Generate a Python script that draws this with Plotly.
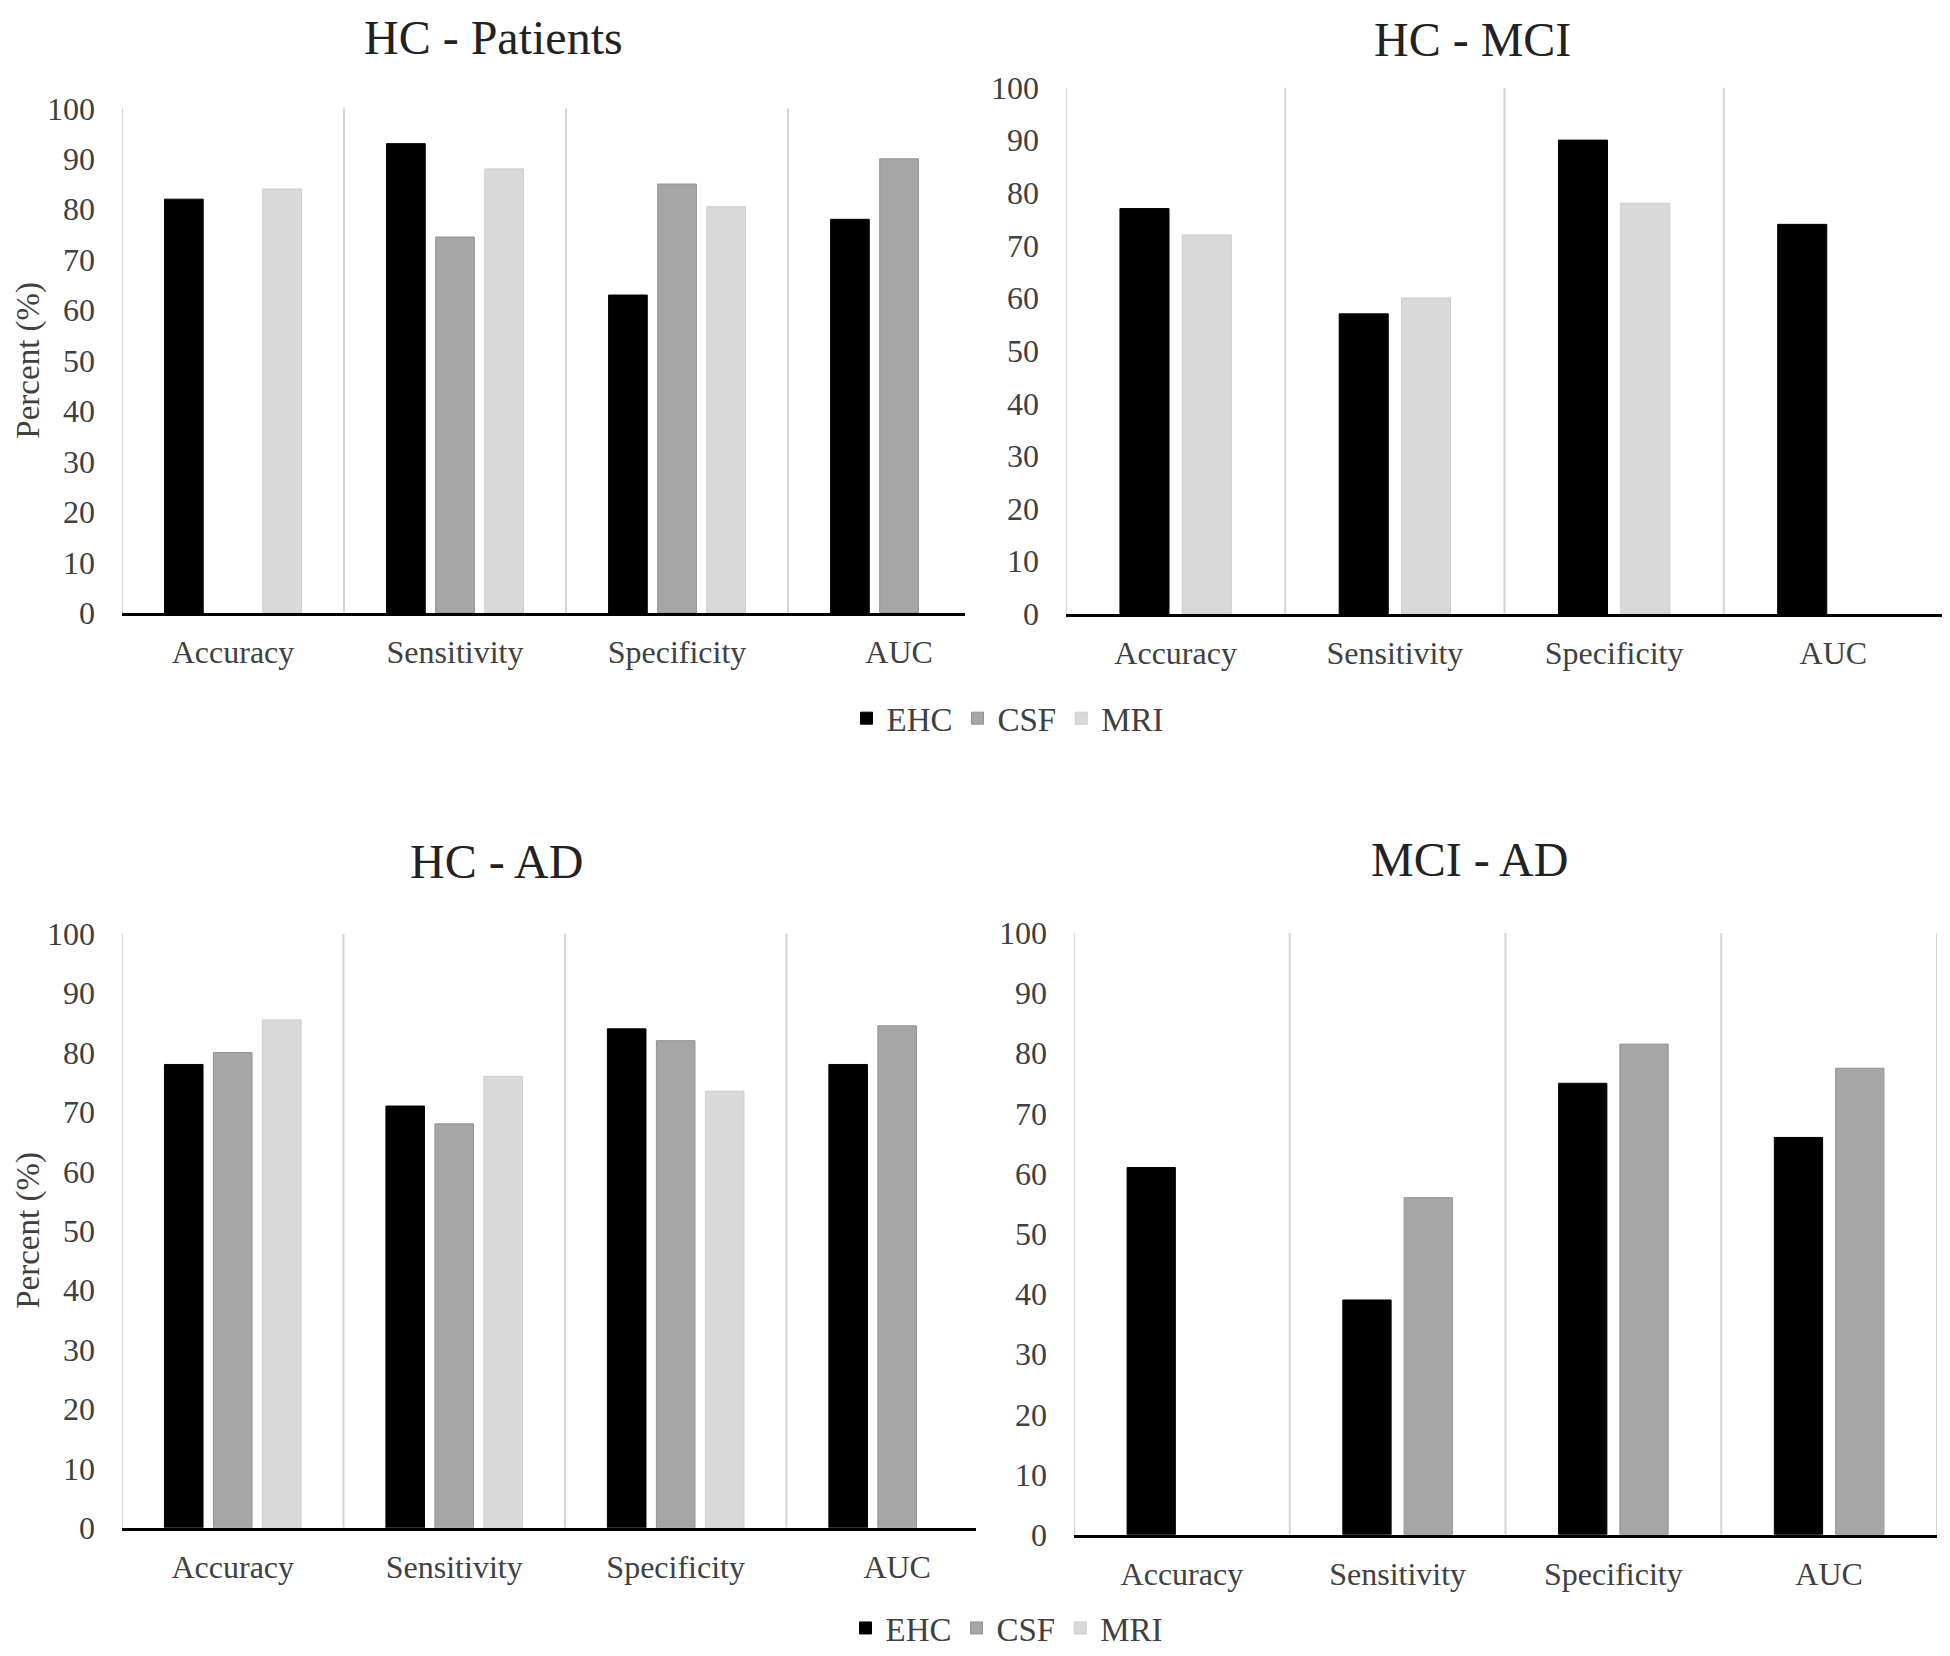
"""
Classification performance (HC / MCI / AD) — four grouped bar panels.
"""

import plotly.graph_objects as go

# ---- data ---------------------------------------------------------------
CATEGORIES = ["Accuracy", "Sensitivity", "Specificity", "AUC"]
Y_TICKS = [0, 10, 20, 30, 40, 50, 60, 70, 80, 90, 100]

HC_PATIENTS_EHC = [82, 93, 63, 78]
HC_PATIENTS_CSF = [None, 74.5, 85, 90]
HC_PATIENTS_MRI = [84, 88, 80.5, None]

HC_MCI_EHC = [77, 57, 90, 74]
HC_MCI_MRI = [72, 60, 78, None]

HC_AD_EHC = [78, 71, 84, 78]
HC_AD_CSF = [80, 68, 82, 84.5]
HC_AD_MRI = [85.5, 76, 73.5, None]

MCI_AD_EHC = [61, 39, 75, 66]
MCI_AD_CSF = [None, 56, 81.5, 77.5]

# ---- style --------------------------------------------------------------
# page body has an 8px margin, so the figure is drawn 8px in from the corner
PAGE_PAD = 8
W, H = 1950 - PAGE_PAD, 1656 - PAGE_PAD
FONT = "Liberation Serif"
TEXT = "#404040"
GRID = "#d4d4d4"
COLORS = {"EHC": ("#000000", "#000000"),
          "CSF": ("#a6a6a6", "#909090"),
          "MRI": ("#d9d9d9", "#cccccc")}
GAP_WIDTH = 2.2      # excel-style gap between groups (in bar widths)
SERIES_GAP = 0.27    # gap between bars in a group (in bar widths)


def px_x(p):
    return (p - PAGE_PAD) / W


def px_y(p):
    return 1 - (p - PAGE_PAD) / H


# left, right, top(100), bottom(0) in screen pixels; xmax = right end of category range
PANELS = [
    dict(title="HC - Patients", title_xy=(494, 38), box=(122, 965, 109, 617), xmax=3.297,
         series=[("EHC", HC_PATIENTS_EHC), ("CSF", HC_PATIENTS_CSF), ("MRI", HC_PATIENTS_MRI)],
         ytitle=(29, 363), legend="legend"),
    dict(title="HC - MCI", title_xy=(1472, 40), box=(1066, 1943, 88, 618), xmax=3.5,
         series=[("EHC", HC_MCI_EHC), ("MRI", HC_MCI_MRI)]),
    dict(title="HC - AD", title_xy=(497, 867), box=(122, 976, 940, 1538), xmax=3.356,
         series=[("EHC", HC_AD_EHC), ("CSF", HC_AD_CSF), ("MRI", HC_AD_MRI)],
         ytitle=(29, 1239), legend="legend2"),
    dict(title="MCI - AD", title_xy=(1469, 865), box=(1074, 1937, 939, 1545), xmax=3.5,
         series=[("EHC", MCI_AD_EHC), ("CSF", MCI_AD_CSF)]),
]

fig = go.Figure()
annotations = []
shapes = []
layout_axes = {}

for i, p in enumerate(PANELS, start=1):
    xa = "x" if i == 1 else f"x{i}"
    ya = "y" if i == 1 else f"y{i}"
    left, right, top, bottom = p["box"]

    n = len(p["series"])
    bar_w = 1 / (n + (n - 1) * SERIES_GAP + GAP_WIDTH)
    step = bar_w * (1 + SERIES_GAP)
    for k, (name, vals) in enumerate(p["series"]):
        center = (k - (n - 1) / 2) * step
        fill, edge = COLORS[name]
        fig.add_trace(go.Bar(
            x=CATEGORIES, y=vals, name=name, xaxis=xa, yaxis=ya,
            width=bar_w, offset=center - bar_w / 2,
            marker=dict(color=fill, line=dict(color=edge, width=1)),
            showlegend="legend" in p, legend=p.get("legend", "legend"),
        ))

    # category separators
    for b in range(len(CATEGORIES) + 1):
        xb = b - 0.5
        if xb <= p["xmax"] + 1e-6:
            shapes.append(dict(type="line", xref=xa, yref=ya, x0=xb, x1=xb, y0=0, y1=100,
                               line=dict(color=GRID, width=2), layer="below"))

    layout_axes["xaxis" if i == 1 else f"xaxis{i}"] = dict(
        domain=[px_x(left), px_x(right)], anchor=ya, type="category",
        range=[-0.5, p["xmax"]], showline=True, linecolor="#000000", linewidth=3,
        showgrid=False, ticks="", ticklabelstandoff=9, automargin=False,
        tickfont=dict(family=FONT, size=32, color=TEXT),
    )
    layout_axes["yaxis" if i == 1 else f"yaxis{i}"] = dict(
        domain=[px_y(bottom), px_y(top)], anchor=xa, range=[0, 100],
        tickvals=Y_TICKS, showline=False, showgrid=False, zeroline=False,
        ticks="", ticklabelstandoff=26, automargin=False,
        tickfont=dict(family=FONT, size=32, color=TEXT),
    )

    tx, ty = p["title_xy"]
    annotations.append(dict(text=p["title"], x=px_x(tx), y=px_y(ty), xref="paper", yref="paper",
                            xanchor="center", yanchor="middle", showarrow=False,
                            font=dict(family=FONT, size=48, color="#222222")))
    if "ytitle" in p:
        yx, yy = p["ytitle"]
        annotations.append(dict(text="Percent (%)", x=px_x(yx), y=px_y(yy), xref="paper", yref="paper",
                                xanchor="center", yanchor="middle", textangle=-90, showarrow=False,
                                font=dict(family=FONT, size=33, color=TEXT)))

legend_style = dict(orientation="h", xanchor="center", yanchor="middle",
                    font=dict(family=FONT, size=33, color=TEXT),
                    bgcolor="rgba(0,0,0,0)", traceorder="normal")

fig.update_layout(
    width=W, height=H,
    margin=dict(l=0, r=0, t=0, b=0),
    paper_bgcolor="white", plot_bgcolor="white",
    barmode="overlay",
    shapes=shapes, annotations=annotations,
    legend=dict(x=px_x(1008), y=px_y(723), **legend_style),
    legend2=dict(x=px_x(1007), y=px_y(1639), **legend_style),
    **layout_axes,
)

fig.write_html("out.html")
